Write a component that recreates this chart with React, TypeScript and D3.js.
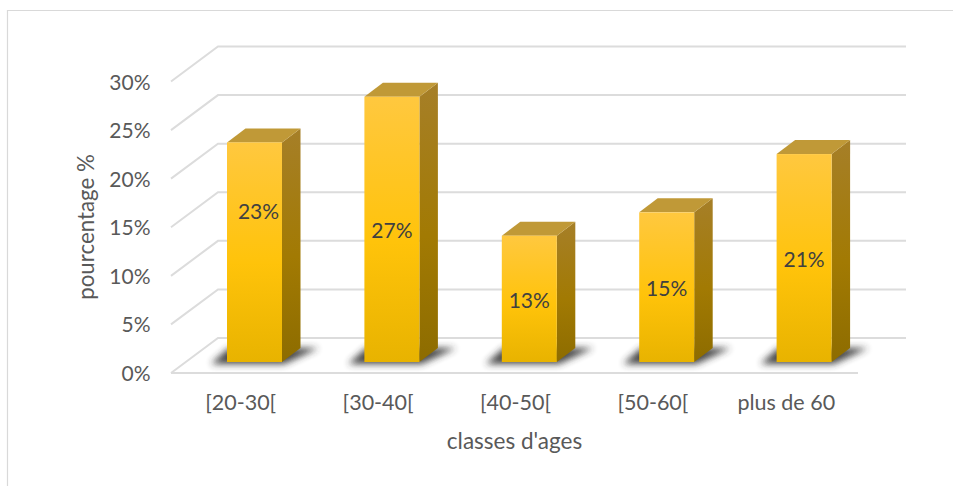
import React from "react";
import * as d3 from "d3";

const categories = ["[20-30[", "[30-40[", "[40-50[", "[50-60[", "plus de 60"];
const shares = [22.6, 27.3, 13.0, 15.4, 21.4];
const axisTicks = [0, 5, 10, 15, 20, 25, 30];
const xTitle = "classes d'ages";
const yTitle = "pourcentage %";

const WIDTH = 953;
const HEIGHT = 486;
const FONT = "Lato, 'Open Sans', sans-serif";

// Projection of the 3D box: the wall sits up and to the right of the front plane.
const frontLeft = 171;
const frontRight = 858;
const wallDx = 47;
const wallDy = -35;
const floorFront = 373;

const x = d3.scaleBand<string>().domain(categories).range([frontLeft, frontRight]);
const y = d3.scaleLinear().domain([0, 30]).range([floorFront, floorFront - 291.5]);

const barWidth = 55;
const barOffset = 56;
const barBase = 362;
const depthDx = 18.5;
const depthDy = -14;

// The first value label was dragged up and to the right of its default spot.
const labelNudge = (i: number): [number, number] => (i === 0 ? [4, -42] : [0, 0]);
// Bracketed labels carry a wider left bearing than the plain one.
const categoryNudge = (c: string) => (c.startsWith("[") ? 1 : -3);

const pts = (p: [number, number][]) => p.map((q) => q.join(",")).join(" ");

export default function App() {
  const barTop = (v: number) => barBase - (floorFront - y(v));
  return (
    <svg
      width={WIDTH}
      height={HEIGHT}
      viewBox={`0 0 ${WIDTH} ${HEIGHT}`}
      style={{ position: "absolute", left: 0, top: 0, background: "#fff" }}
      fontFamily={FONT}
    >
      <defs>
        <linearGradient id="front" x1="0" y1="0" x2="0" y2="1">
          <stop offset="0" stopColor="#ffc83f" />
          <stop offset="0.55" stopColor="#ffc30a" />
          <stop offset="1" stopColor="#e8b300" />
        </linearGradient>
        <linearGradient id="side" x1="0" y1="0" x2="0" y2="1">
          <stop offset="0" stopColor="#a67f28" />
          <stop offset="0.55" stopColor="#a27a03" />
          <stop offset="1" stopColor="#8d6c00" />
        </linearGradient>
        <filter id="soft" x="-40%" y="-120%" width="180%" height="340%">
          <feGaussianBlur stdDeviation="3.8" />
        </filter>
      </defs>

      {/* chart frame, open to the right and bottom */}
      <path d="M7.5,486V10.5H953" fill="none" stroke="#d9d9d9" strokeWidth={1.2} />

      {/* gridlines: wall line plus the slanted run down to the front plane */}
      {axisTicks.map((t) => (
        <polyline
          key={t}
          points={pts([
            [frontLeft, y(t)],
            [frontLeft + wallDx, y(t) + wallDy],
            [frontRight + wallDx + 1, y(t) + wallDy],
          ])}
          fill="none"
          stroke="#dcdcdc"
          strokeWidth={2}
        />
      ))}
      <line x1={frontLeft} x2={frontRight} y1={y(0)} y2={y(0)} stroke="#dcdcdc" strokeWidth={2} />

      {/* axis tick labels */}
      {axisTicks.map((t) => (
        <text key={t} x={150.5} y={y(t) + 8} textAnchor="end" fontSize={21} fill="#595959">
          {t}%
        </text>
      ))}
      {categories.map((c) => (
        <text
          key={c}
          x={x(c)! + x.bandwidth() / 2 + categoryNudge(c)}
          y={410}
          textAnchor="middle"
          fontSize={21.5}
          fill="#595959"
        >
          {c}
        </text>
      ))}
      <text x={514.5} y={449} textAnchor="middle" fontSize={22.5} fill="#595959">
        {xTitle}
      </text>
      <text
        transform="translate(94,227) rotate(-90)"
        textAnchor="middle"
        fontSize={22.3}
        fill="#595959"
      >
        {yTitle}
      </text>

      {/* floor shadows */}
      {categories.map((c) => {
        const l = x(c)! + barOffset;
        return (
          <polygon
            key={c}
            filter="url(#soft)"
            fill="#303030"
            opacity={0.9}
            points={pts([
              [l - 16, barBase + 2],
              [l + barWidth + 2, barBase + 2],
              [l + barWidth + depthDx + 18, barBase + depthDy],
              [l + 2, barBase + depthDy],
            ])}
          />
        );
      })}

      {/* bars: side, top, then front face */}
      {categories.map((c, i) => {
        const l = x(c)! + barOffset;
        const r = l + barWidth;
        const top = barTop(shares[i]);
        const [nx, ny] = labelNudge(i);
        return (
          <g key={c}>
            <polygon
              fill="url(#side)"
              points={pts([
                [r, top],
                [r + depthDx, top + depthDy],
                [r + depthDx, barBase + depthDy],
                [r, barBase],
              ])}
            />
            <polygon
              fill="#c09937"
              points={pts([
                [l, top],
                [l + depthDx, top + depthDy],
                [r + depthDx, top + depthDy],
                [r, top],
              ])}
            />
            <rect x={l} y={top} width={barWidth} height={barBase - top} fill="url(#front)" />
            <text
              x={l + barWidth / 2 + nx}
              y={(top + barBase) / 2 + 9 + ny}
              textAnchor="middle"
              fontSize={21}
              fill="#404040"
            >
              {d3.format(".0f")(shares[i])}%
            </text>
          </g>
        );
      })}
    </svg>
  );
}
